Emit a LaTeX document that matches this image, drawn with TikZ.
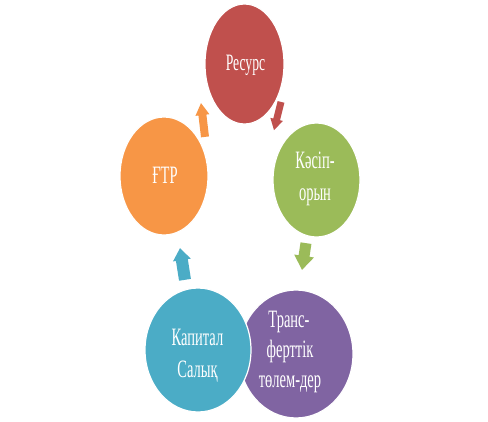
\documentclass[tikz,border=0pt]{standalone}
\usepackage{fontspec}
\setmainfont{Liberation Serif}
\usetikzlibrary{shapes.geometric}
\definecolor{cred}{HTML}{C0504D}
\definecolor{cgreen}{HTML}{9BBB59}
\definecolor{cpurple}{HTML}{8064A2}
\definecolor{caqua}{HTML}{4BACC6}
\definecolor{corange}{HTML}{F79646}
\newcommand\sqz[1]{\scalebox{0.58}[1]{#1}}
\begin{document}
\begin{tikzpicture}[x=1pt,y=-1pt,
  blob/.style={ellipse, draw=white, line width=1.2pt, inner sep=0pt},
  txt/.style={text=white, anchor=base, inner sep=0pt, font=\fontsize{25}{30}\selectfont},
  smalltxt/.style={txt, font=\fontsize{23.5}{28}\selectfont}]
\fill[white] (0,0) rectangle (488,421);
\useasboundingbox (0,0) rectangle (488,421);
% circles
\node[blob, fill=cred, minimum width=79pt, minimum height=120pt] (res) at (244.5,64) {};
\node[blob, fill=cgreen, minimum width=87pt, minimum height=114pt] (kas) at (316.5,180) {};
\node[blob, fill=corange, minimum width=88pt, minimum height=118pt] (ftp) at (164,176) {};
\node[blob, fill=cpurple, minimum width=114pt, minimum height=128pt] (tra) at (296,354) {};
\node[blob, fill=caqua, minimum width=106pt, minimum height=124pt] (kap) at (198,350) {};
% texts
\node[smalltxt] (rest) at (245.5,70) {\sqz{Ресурс}};
\node[txt] (ftpt) at (165,183) {\sqz{ҒТР}};
\node[txt] (kas1) at (315,168) {\sqz{Кәсіп-}};
\node[txt] (kas2) at (315,200) {\sqz{орын}};
\node[txt] (tra1) at (289,327) {\sqz{Транс-}};
\node[txt] (tra2) at (290,357) {\sqz{ферттік}};
\node[txt] (tra3) at (290,387) {\sqz{төлем-дер}};
\node[txt] (kap1) at (197.5,345) {\sqz{Капитал}};
\node[txt] (kap2) at (197.5,377) {\sqz{Салық}};
% arrows
\fill[cred, shift={(277.5,116)}, rotate=-104]
  (-14.5,-3.5) -- (3.5,-3.5) -- (3.5,-6.5) -- (14.5,0) -- (3.5,6.5) -- (3.5,3.5) -- (-14.5,3.5) -- cycle;
\fill[corange, shift={(203,120)}, rotate=96.7]
  (-17,-4) -- (5,-4) -- (5,-7) -- (17,0) -- (5,7) -- (5,4) -- (-17,4) -- cycle;
\fill[cgreen, shift={(304,256.5)}, rotate=-98.4]
  (-13.5,-5.5) -- (-0.5,-5.5) -- (-0.5,-10) -- (13.5,0) -- (-0.5,10) -- (-0.5,5.5) -- (-13.5,5.5) -- cycle;
\fill[caqua, shift={(182.5,264)}, rotate=98.9]
  (-16,-6) -- (4,-6) -- (4,-9) -- (16,0) -- (4,9) -- (4,6) -- (-16,6) -- cycle;
\end{tikzpicture}
\end{document}
